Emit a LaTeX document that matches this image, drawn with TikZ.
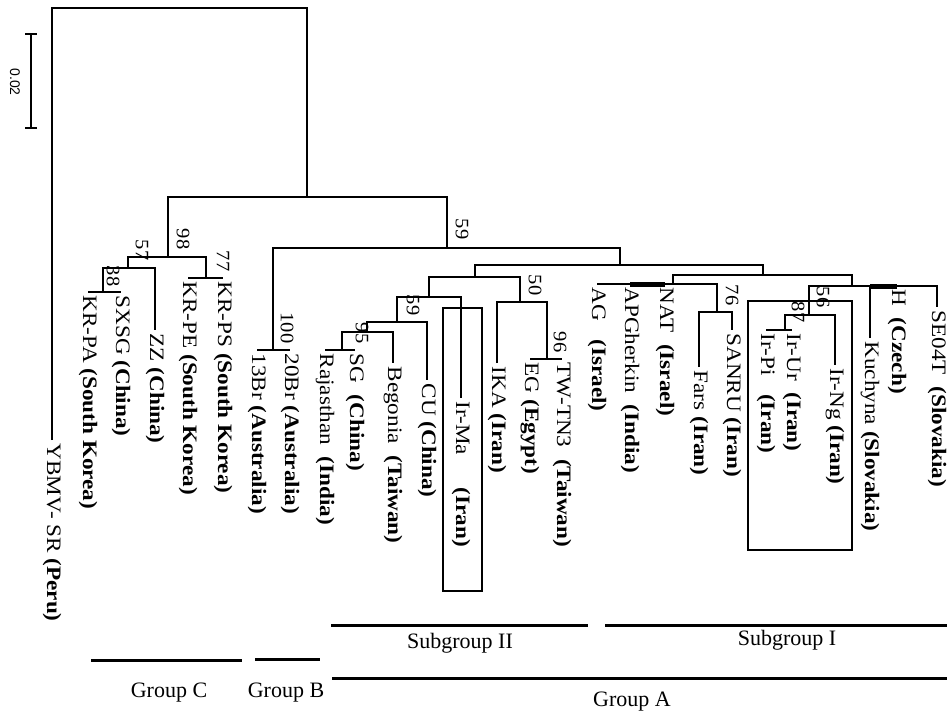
\documentclass[tikz,border=0pt]{standalone}
\usepackage{fontspec}
\setmainfont{Liberation Serif}
\newfontfamily\barfont{Liberation Sans}
\usetikzlibrary{calc, arrows.meta}

\tikzset{
  branch/.style={line width=2.6pt, line join=miter},
  thickseg/.style={line width=5pt},
  leaf/.style={rotate=-90, xscale=1.13, anchor=west, inner sep=3pt, font=\fontsize{20.5}{24}\selectfont},
  boot/.style={rotate=-90, xscale=1.08, inner sep=0pt, font=\fontsize{19}{22}\selectfont},
  frame/.style={line width=1.8pt},
  bar/.style={line width=3pt},
  grp/.style={inner sep=0pt, font=\fontsize{22}{26}\selectfont},
}

\begin{document}
\begin{tikzpicture}[x=1pt,y=-1pt]
\useasboundingbox (0,0) rectangle (947,713);

% Scale bar
\coordinate (sbTop) at (31,33);
\coordinate (sbBot) at (31,129);
\draw[{Bar[width=12pt]}-{Bar[width=12pt]}, line width=1.6pt] (sbTop) -- (sbBot);
\node[rotate=-90, inner sep=0pt, font=\barfont\fontsize{14}{16}\selectfont] (sbLab) at (15,82) {0.02};

% Leaves (tip coordinate + rotated label)
\foreach \id/\x/\y/\txt in {
  ybmv/52/440/{YBMV- SR \textbf{(Peru)}},
  krpa/88/292/{KR-PA \textbf{(South Korea)}},
  sxsg/121/292/{SXSG \textbf{(China)}},
  zz/155/330/{ZZ \textbf{(China)}},
  krpe/188/278/{KR-PE \textbf{(South Korea)}},
  krps/223/278/{KR-PS \textbf{(South Korea)}},
  br13/257/350/{13Br \textbf{(Australia)}},
  br20/290/350/{20Br \textbf{(Australia)}},
  raj/325/350/{Rajasthan\hspace{0.5em}\textbf{(India)}},
  sg/355/350/{SG\hspace{0.5em}\textbf{(China)}},
  beg/393/363/{Begonia\hspace{0.5em}\textbf{(Taiwan)}},
  cu/427/380/{CU \textbf{(China)}},
  irma/461/398/{Ir-Ma\hspace{1.4em}\textbf{(Iran)}},
  ika/497/363/{IKA \textbf{(Iran)}},
  eg/530/359/{EG \textbf{(Egypt)}},
  tw/562/359/{TW-TN3\hspace{0.5em}\textbf{(Taiwan)}},
  ag/597/284/{AG\hspace{0.8em}\textbf{(Israel)}},
  apg/630/284/{APGherkin\hspace{0.5em}\textbf{(India)}},
  nat/665/284/{NAT\hspace{0.5em}\textbf{(Israel)}},
  fars/699/367/{Fars \textbf{(Iran)}},
  sanru/732/330/{SANRU \textbf{(Iran)}},
  irpi/766/330/{Ir-Pi\hspace{0.8em}\textbf{(Iran)}},
  irur/792/330/{Ir-Ur\hspace{0.5em}\textbf{(Iran)}},
  irng/835/365/{Ir-Ng \textbf{(Iran)}},
  kuch/870/338/{Kuchyna \textbf{(Slovakia)}},
  h/897/286/{H\hspace{0.5em}\textbf{(Czech)}},
  se/937/307/{SE04T\hspace{0.5em}\textbf{(Slovakia)}}}
{
    \coordinate (\id) at (\x,\y);
    \node[leaf] (t\id) at (\id) {\txt};
}

% Internal nodes
\coordinate (root) at (180,8);
\coordinate (ingroup) at (307,197);
\coordinate (n98) at (168,257);
\coordinate (n57) at (128,268);
\coordinate (n38) at (103,292);
\coordinate (n77) at (206,278);
\coordinate (n59a) at (447,248);
\coordinate (n100) at (273,350);
\coordinate (grpA) at (620,265);
\coordinate (sub2) at (475,277);
\coordinate (n429) at (429,297);
\coordinate (n59b) at (397,322);
\coordinate (n95) at (367,332);
\coordinate (n342) at (342,350);
\coordinate (n50) at (520,302);
\coordinate (n96) at (547,359);
\coordinate (sub1) at (763,275);
\coordinate (nag) at (673,284);
\coordinate (n76) at (717,312);
\coordinate (neu) at (852,286);
\coordinate (n56) at (809,315);
\coordinate (n87) at (785,330);

% Branches
\draw[branch] (ybmv) |- (root) -| (ingroup);
\draw[branch] (n98) |- (ingroup) -| (n59a);
% Group C
\draw[branch] (n57) |- (n98) -| (n77);
\draw[branch] (n38) |- (n57) -| (zz);
\draw[branch] (krpa) -- (sxsg);
\draw[branch] (krpe) -- (krps);
% Group B
\draw[branch] (n100) |- (n59a) -| (grpA);
\draw[branch] (br13) -- (br20);
% Group A, subgroup II
\draw[branch] (sub2) |- (grpA) -| (sub1);
\draw[branch] (n429) |- (sub2) -| (n50);
\draw[branch] (n59b) |- (n429) -| (irma);
\draw[branch] (n95) |- (n59b) -| (cu);
\draw[branch] (n342) |- (n95) -| (beg);
\draw[branch] (raj) -- (sg);
\draw[branch] (ika) |- (n50) -| (n96);
\draw[branch] (eg) -- (tw);
% Group A, subgroup I
\draw[branch] (nag) |- (sub1) -| (neu);
\draw[branch] (ag) -| (n76);
\draw[thickseg] (apg) -- (nat);
\draw[branch] (fars) |- (n76) -| (sanru);
\draw[branch] (n56) |- (neu) -| (se);
\draw[branch] (kuch) -- (kuch |- neu);
\draw[thickseg] (kuch |- neu) -- (h);
\draw[branch] (n87) |- (n56) -| (irng);
\draw[branch] (irpi) -- (irur);

% Bootstrap values
\node[boot] (b98) at (183,239) {98};
\node[boot] (b57) at (142,250) {57};
\node[boot] (b38) at (113,276) {38};
\node[boot] (b77) at (223,261) {77};
\node[boot] (b59a) at (462,229) {59};
\node[boot] (b100) at (287,328) {100};
\node[boot] (b59b) at (413,305) {59};
\node[boot] (b95) at (362,333) {95};
\node[boot] (b50) at (535,285) {50};
\node[boot] (b96) at (560,342) {96};
\node[boot] (b76) at (732,295) {76};
\node[boot] (b56) at (823,297) {56};
\node[boot] (b87) at (798,312) {87};

% Boxes round the Iranian isolates
\draw[frame] (443,308) rectangle (482,591);
\draw[frame] (748,301) rectangle (852,550);

% Groups
\draw[bar] (331,625) -- (588,625);
\draw[bar] (605,625) -- (947,625);
\draw[bar] (91,660) -- (242,660);
\draw[bar] (255,659) -- (320,659);
\draw[bar] (332,678) -- (947,678);
\node[grp] (lSub2) at (460,643) {Subgroup II};
\node[grp] (lSub1) at (787,640) {Subgroup I};
\node[grp] (lGrpC) at (169,693) {Group C};
\node[grp] (lGrpB) at (286,693) {Group B};
\node[grp] (lGrpA) at (632,702) {Group A};

\end{tikzpicture}
\end{document}
